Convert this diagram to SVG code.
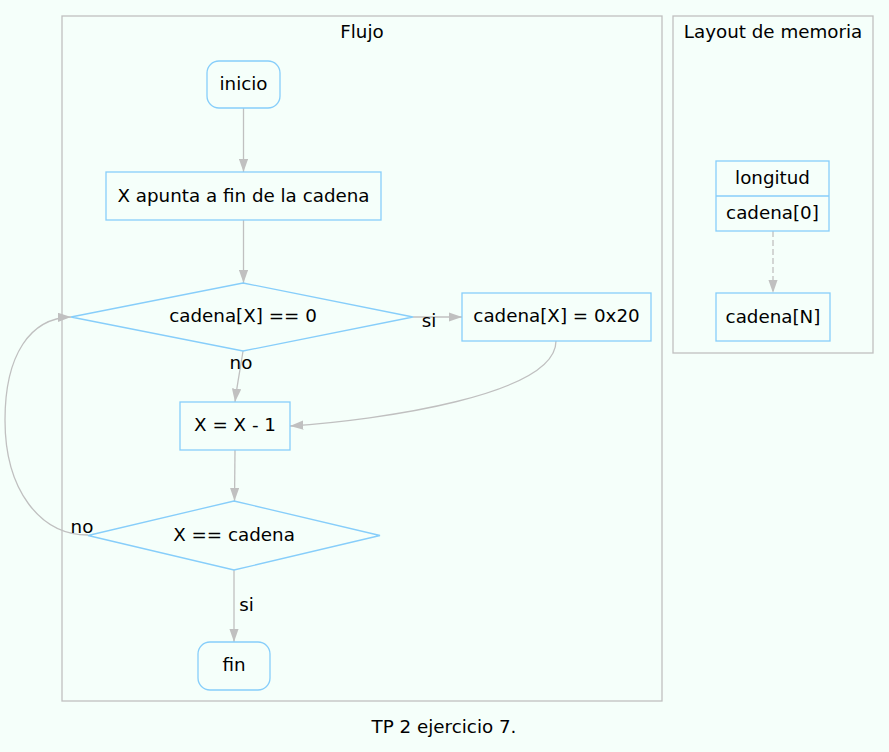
<svg xmlns="http://www.w3.org/2000/svg" width="889" height="752" viewBox="0 0 889 752">
<style>
text{font-family:"DejaVu Sans","Liberation Sans",sans-serif;font-size:18.3px;fill:#000;text-anchor:middle}
.cl{fill:none;stroke:#c0c0c0;stroke-width:1.3}
.n{fill:none;stroke:#87cefa;stroke-width:1.3}
.e{fill:none;stroke:#c0c0c0;stroke-width:1.3}
</style>
<defs>
<marker id="ah" viewBox="0 0 13.3 9.3" refX="13.3" refY="4.65" markerWidth="13.3" markerHeight="9.3" markerUnits="userSpaceOnUse" orient="auto">
<path d="M0,0 L13.3,4.65 L0,9.3 Z" fill="#c0c0c0"/>
</marker>
</defs>
<rect x="0" y="0" width="889" height="752" fill="#f5fffa"/>
<g id="cluster_flujo">
<rect class="cl" x="62" y="16" width="600" height="685"/>
<text x="362" y="38">Flujo</text>
</g>
<g id="cluster_memoria">
<rect class="cl" x="673" y="16" width="200" height="337"/>
<text x="773" y="38">Layout de memoria</text>
</g>
<g id="connectors">
<path class="e" d="M243.5,108 L243.5,172" marker-end="url(#ah)"/>
<path class="e" d="M243.5,220 L243.5,283" marker-end="url(#ah)"/>
<path class="e" d="M413,317 L462,317" marker-end="url(#ah)"/>
<text x="429" y="327">si</text>
<path class="e" d="M243,351 C241,365 237,385 235,402" marker-end="url(#ah)"/>
<text x="241" y="368.5">no</text>
<path class="e" d="M556,341 C556,395 380,420 290,426" marker-end="url(#ah)"/>
<path class="e" d="M235,450 L234.5,501" marker-end="url(#ah)"/>
<path class="e" d="M88,535 C40,535 5,490 5,420 C5,355 30,318 71,317" marker-end="url(#ah)"/>
<text x="82" y="532.5">no</text>
<path class="e" d="M234,570 L234,642" marker-end="url(#ah)"/>
<text x="246.5" y="610.5">si</text>
<path class="e" d="M773,231 L773,293" stroke-dasharray="6,3" marker-end="url(#ah)"/>
</g>
<g id="inicio">
<rect class="n" x="207" y="61" width="73" height="47" rx="12" ry="12"/>
<text x="243.5" y="90">inicio</text>
</g>
<g id="apuntar">
<rect class="n" x="106" y="172" width="275" height="48"/>
<text x="243.5" y="201.7">X apunta a fin de la cadena</text>
</g>
<g id="cond_cero">
<polygon class="n" points="243,283 413,317 243,351 71,317"/>
<text x="243" y="321.7">cadena[X] == 0</text>
</g>
<g id="asignar">
<rect class="n" x="462" y="293" width="189" height="48"/>
<text x="556.5" y="321.7">cadena[X] = 0x20</text>
</g>
<g id="decrementar">
<rect class="n" x="180" y="402" width="110" height="48"/>
<text x="235" y="430.7">X = X - 1</text>
</g>
<g id="cond_inicio">
<polygon class="n" points="234,501 380,535.5 234,570 88,535.5"/>
<text x="234" y="540.7">X == cadena</text>
</g>
<g id="fin">
<rect class="n" x="198" y="642" width="72" height="48" rx="12" ry="12"/>
<text x="234" y="670.5">fin</text>
</g>
<g id="memoria">
<rect class="n" x="716" y="161" width="113" height="70"/>
<line class="n" x1="716" y1="196" x2="829" y2="196"/>
<text x="772.5" y="183.5">longitud</text>
<text x="772.5" y="218.5">cadena[0]</text>
</g>
<g id="cadenaN">
<rect class="n" x="716" y="293" width="114" height="48"/>
<text x="773" y="323">cadena[N]</text>
</g>
<text x="444" y="733">TP 2 ejercicio 7.</text>
</svg>
